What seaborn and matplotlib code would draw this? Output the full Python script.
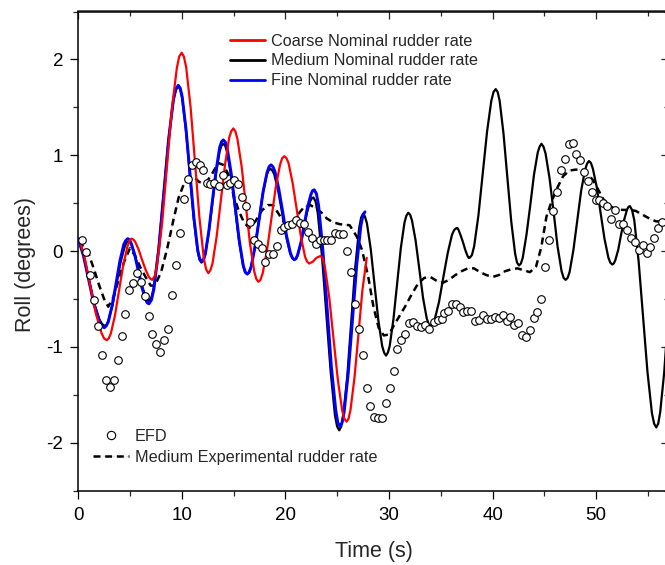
import matplotlib
matplotlib.use("Agg")
import matplotlib.pyplot as plt
import seaborn as sns
import pandas as pd
from matplotlib.lines import Line2D
from matplotlib.legend_handler import HandlerTuple
from matplotlib.ticker import MultipleLocator

# ---------------- data ----------------
coarse_t = [0.13, 0.65, 1.18, 1.70, 2.23, 2.49,
            2.75, 2.95, 3.15, 3.55, 3.96, 4.36, 4.76, 4.96,
            5.16, 5.33, 5.49, 5.82, 6.16, 6.49, 6.82, 6.98,
            7.15, 7.39, 7.62, 8.10, 8.57, 9.04, 9.52, 9.75,
            9.99, 10.20, 10.42, 10.85, 11.28, 11.70, 12.13, 12.35,
            12.56, 12.76, 12.96, 13.36, 13.77, 14.17, 14.57, 14.77,
            14.97, 15.17, 15.37, 15.78, 16.18, 16.58, 16.99, 17.19,
            17.39, 17.60, 17.81, 18.23, 18.65, 19.06, 19.48, 19.69,
            19.90, 20.10, 20.30, 20.70, 21.10, 21.50, 21.90, 22.10,
            22.30, 22.65, 23.00,
            23.40, 23.61, 23.82, 24.23, 24.65, 25.07, 25.48, 25.69,
            25.90, 26.09, 26.28, 26.67, 27.05, 27.43, 27.85]
coarse_v = [0.12, -0.08, -0.37, -0.65, -0.85, -0.91,
            -0.93, -0.91, -0.86, -0.67, -0.40, -0.14, 0.05, 0.11,
            0.13, 0.12, 0.10, 0.02, -0.09, -0.19, -0.27, -0.29,
            -0.30, -0.26, -0.14, 0.29, 0.89, 1.48, 1.91, 2.03,
            2.07, 2.03, 1.92, 1.50, 0.92, 0.35, -0.08, -0.19,
            -0.23, -0.20, -0.13, 0.15, 0.53, 0.90, 1.18, 1.25,
            1.28, 1.25, 1.17, 0.88, 0.48, 0.08, -0.21, -0.29,
            -0.32, -0.30, -0.23, 0.01, 0.34, 0.66, 0.90, 0.97,
            0.99, 0.97, 0.92, 0.71, 0.43, 0.15, -0.06, -0.11,
            -0.13, -0.11, -0.07,
            -0.05, -0.08, -0.17, -0.48, -0.92, -1.35, -1.66, -1.75,
            -1.78, -1.75, -1.66, -1.32, -0.87, -0.41, -0.07]

medium_t = [0.00, 0.52, 1.03, 1.53, 2.04, 2.30,
            2.55, 2.74, 2.93, 3.32, 3.70, 4.08, 4.47, 4.66,
            4.85, 5.02, 5.18, 5.52, 5.85, 6.18, 6.52, 6.68,
            6.85, 7.08, 7.32, 7.78, 8.25, 8.72, 9.18, 9.42,
            9.65, 9.84, 10.03, 10.40, 10.78, 11.15, 11.53, 11.71,
            11.90, 12.08, 12.25, 12.60, 12.95, 13.30, 13.65, 13.83,
            14.00, 14.19, 14.38, 14.77, 15.15, 15.53, 15.92, 16.11,
            16.30, 16.49, 16.68, 17.05, 17.43, 17.80, 18.18, 18.36,
            18.55, 18.74, 18.93, 19.32, 19.70, 20.08, 20.47, 20.66,
            20.85, 21.00, 21.16, 21.47, 21.78, 22.08, 22.39, 22.55,
            22.70, 22.91, 23.12, 23.53, 23.95, 24.37, 24.78, 24.99,
            25.20, 25.39, 25.58, 25.97, 26.35, 26.73, 27.12, 27.31,
            27.50, 27.68, 27.87, 28.24, 28.61, 28.97, 29.34, 29.53,
            29.71, 29.89, 30.07, 30.43, 30.79, 31.14, 31.50, 31.68,
            31.86, 32.04, 32.22, 32.57, 32.93, 33.29, 33.64, 33.82,
            34.00, 34.21, 34.42, 34.83, 35.25, 35.67, 36.08, 36.29,
            36.50, 36.61, 36.72, 36.93, 37.15, 37.37, 37.58, 37.69,
            37.80, 38.01, 38.22, 38.63, 39.05, 39.47, 39.88, 40.09,
            40.30, 40.49, 40.68, 41.05, 41.43, 41.80, 42.18, 42.36,
            42.55, 42.73, 42.91, 43.27, 43.64, 44.00, 44.36, 44.54,
            44.72, 44.91, 45.11, 45.50, 45.89, 46.27, 46.66, 46.86,
            47.05, 47.24, 47.43, 47.80, 48.18, 48.55, 48.93, 49.11,
            49.30, 49.49, 49.68, 50.05, 50.43, 50.80, 51.18, 51.36,
            51.55, 51.69, 51.83, 52.12, 52.40, 52.68, 52.97, 53.11,
            53.25, 53.46, 53.68, 54.10, 54.53, 54.95, 55.38, 55.59,
            55.80, 55.99, 56.18, 56.57, 56.95]
medium_v = [0.13, -0.05, -0.29, -0.54, -0.71, -0.76,
            -0.78, -0.77, -0.72, -0.56, -0.34, -0.12, 0.04, 0.09,
            0.10, 0.09, 0.06, -0.06, -0.21, -0.37, -0.48, -0.51,
            -0.52, -0.48, -0.37, 0.04, 0.60, 1.16, 1.57, 1.68,
            1.72, 1.69, 1.60, 1.26, 0.80, 0.34, 0.00, -0.09,
            -0.12, -0.10, -0.04, 0.19, 0.50, 0.81, 1.04, 1.10,
            1.12, 1.10, 1.03, 0.78, 0.44, 0.10, -0.15, -0.22,
            -0.24, -0.22, -0.17, 0.04, 0.31, 0.59, 0.79, 0.84,
            0.86, 0.84, 0.80, 0.62, 0.39, 0.15, -0.03, -0.07,
            -0.09, -0.08, -0.05, 0.07, 0.24, 0.40, 0.52, 0.55,
            0.56, 0.52, 0.40, -0.05, -0.66, -1.26, -1.71, -1.83,
            -1.87, -1.83, -1.72, -1.31, -0.74, -0.18, 0.24, 0.35,
            0.39, 0.36, 0.29, 0.02, -0.35, -0.72, -0.99, -1.06,
            -1.09, -1.06, -0.99, -0.71, -0.34, 0.03, 0.30, 0.37,
            0.40, 0.38, 0.32, 0.11, -0.19, -0.49, -0.70, -0.76,
            -0.78, -0.76, -0.71, -0.53, -0.27, -0.02, 0.17, 0.22,
            0.24, 0.24, 0.22, 0.16, 0.09, 0.01, -0.05, -0.07,
            -0.07, -0.04, 0.05, 0.37, 0.81, 1.25, 1.57, 1.66,
            1.69, 1.66, 1.57, 1.23, 0.77, 0.31, -0.03, -0.12,
            -0.15, -0.13, -0.07, 0.17, 0.48, 0.80, 1.03, 1.09,
            1.12, 1.09, 1.02, 0.76, 0.41, 0.05, -0.21, -0.28,
            -0.30, -0.28, -0.22, 0.01, 0.32, 0.63, 0.85, 0.91,
            0.94, 0.92, 0.86, 0.67, 0.40, 0.13, -0.07, -0.12,
            -0.14, -0.13, -0.10, 0.01, 0.17, 0.32, 0.43, 0.46,
            0.47, 0.43, 0.32, -0.11, -0.69, -1.26, -1.69, -1.80,
            -1.84, -1.80, -1.68, -1.26, -0.67]

fine_t = [0.00, 0.51, 1.01, 1.51, 2.02, 2.27,
          2.52, 2.71, 2.90, 3.27, 3.65, 4.03, 4.40, 4.59,
          4.78, 4.95, 5.12, 5.46, 5.81, 6.15, 6.49, 6.66,
          6.83, 7.07, 7.30, 7.77, 8.25, 8.72, 9.19, 9.42,
          9.66, 9.85, 10.04, 10.41, 10.79, 11.17, 11.54, 11.73,
          11.92, 12.09, 12.27, 12.61, 12.96, 13.31, 13.65, 13.83,
          14.00, 14.19, 14.39, 14.77, 15.16, 15.55, 15.93, 16.13,
          16.32, 16.51, 16.70, 17.08, 17.47, 17.85, 18.23, 18.42,
          18.61, 18.80, 18.99, 19.36, 19.74, 20.11, 20.49, 20.67,
          20.86, 21.02, 21.18, 21.50, 21.82, 22.14, 22.46, 22.62,
          22.78, 22.99, 23.20, 23.61, 24.03, 24.44, 24.86, 25.06,
          25.27, 25.47, 25.67, 26.07, 26.48, 26.88, 27.28, 27.48, 27.68]
fine_v = [0.13, -0.05, -0.30, -0.55, -0.73, -0.78,
          -0.80, -0.78, -0.74, -0.57, -0.34, -0.10, 0.07, 0.11,
          0.13, 0.12, 0.08, -0.04, -0.21, -0.38, -0.50, -0.54,
          -0.55, -0.51, -0.40, 0.02, 0.59, 1.16, 1.58, 1.69,
          1.73, 1.70, 1.61, 1.27, 0.81, 0.35, 0.01, -0.08,
          -0.11, -0.09, -0.03, 0.21, 0.53, 0.84, 1.08, 1.14,
          1.16, 1.14, 1.07, 0.81, 0.46, 0.11, -0.15, -0.22,
          -0.24, -0.22, -0.16, 0.05, 0.33, 0.62, 0.82, 0.88,
          0.90, 0.88, 0.83, 0.65, 0.41, 0.16, -0.02, -0.07,
          -0.09, -0.08, -0.04, 0.09, 0.28, 0.46, 0.59, 0.63,
          0.64, 0.60, 0.48, 0.02, -0.60, -1.21, -1.66, -1.79,
          -1.83, -1.79, -1.68, -1.27, -0.71, -0.15, 0.26, 0.37, 0.41]

exp_t = [0.0, 0.5, 1.0, 1.5, 2.0, 2.5, 2.9, 3.4, 3.9, 4.4, 5.0, 5.5, 6.0, 6.5,
         7.0, 7.4, 8.0, 8.6, 9.2, 9.7, 10.2, 10.7, 11.2, 11.7, 12.3, 12.9, 13.5,
         14.0, 14.5, 15.0, 15.5, 16.0, 16.5, 17.1, 17.7, 18.3, 18.8, 19.4, 20.0,
         20.6, 21.2, 21.8, 22.4, 22.9, 23.5, 24.0, 24.6, 25.3, 26.2, 26.9, 27.4,
         28.0, 28.5, 29.0, 29.5, 30.0, 30.5, 31.0, 31.6, 32.2, 32.8, 33.4, 34.0,
         34.6, 35.2, 35.8, 36.4, 37.0, 37.6, 38.2, 38.8, 39.4, 40.0, 40.6, 41.2,
         41.8, 42.4, 43.0, 43.6, 44.2, 44.7, 45.2, 45.7, 46.2, 46.8, 47.4, 48.0,
         48.7, 49.2, 49.7, 50.2, 50.7, 51.2, 51.8, 52.5, 53.2, 53.8, 54.3, 54.8,
         55.3, 55.8, 56.3, 56.8]
exp_v = [0.10, 0.05, -0.03, -0.18, -0.35, -0.50, -0.58, -0.48, -0.30, -0.12,
         0.03, -0.05, -0.17, -0.27, -0.36, -0.36, -0.22, 0.03, 0.33, 0.56, 0.70,
         0.77, 0.77, 0.72, 0.71, 0.80, 0.92, 0.90, 0.80, 0.58, 0.42, 0.30, 0.24,
         0.31, 0.42, 0.48, 0.48, 0.38, 0.28, 0.28, 0.38, 0.46, 0.48, 0.45, 0.40,
         0.34, 0.30, 0.28, 0.27, 0.15, 0.01, -0.27, -0.58, -0.80, -0.88, -0.87,
         -0.77, -0.68, -0.57, -0.45, -0.34, -0.28, -0.27, -0.31, -0.33, -0.30,
         -0.25, -0.21, -0.18, -0.18, -0.22, -0.25, -0.27, -0.25, -0.21, -0.19,
         -0.18, -0.20, -0.22, -0.16, 0.04, 0.36, 0.52, 0.65, 0.78, 0.84, 0.85,
         0.85, 0.80, 0.74, 0.64, 0.54, 0.48, 0.44, 0.43, 0.43, 0.42, 0.39, 0.36,
         0.33, 0.31, 0.31, 0.32]

efd_t = [0.40, 0.78, 1.14, 1.55, 1.90, 2.28, 2.65, 3.04, 3.43, 3.80, 4.20, 4.55,
         4.90, 5.30, 5.66, 6.06, 6.45, 6.79, 7.16, 7.52, 7.93, 8.29, 8.67, 9.04,
         9.42, 9.80, 10.18, 10.57, 10.95, 11.34, 11.72, 12.05, 12.40, 12.72,
         13.10, 13.60, 13.95, 14.33, 14.65, 15.04, 15.40, 15.84, 16.17, 16.58,
         16.97, 17.32, 17.71, 18.03, 18.42, 18.80, 19.19, 19.58, 19.90, 20.28,
         20.67, 21.05, 21.44, 21.78, 22.15, 22.55, 22.92, 23.30, 23.68, 24.04,
         24.43, 24.82, 25.20, 25.59, 25.98, 26.30, 26.69, 27.07, 27.46, 27.85,
         28.17, 28.55, 28.94, 29.32, 29.70, 30.10, 30.48, 30.80, 31.19, 31.57,
         31.96, 32.35, 32.73, 33.10, 33.50, 33.90, 34.30, 34.70, 35.09, 35.30,
         35.67, 36.05, 36.44, 36.82, 37.17, 37.56, 37.94, 38.30, 38.69, 39.07,
         39.46, 39.82, 40.20, 40.59, 40.97, 41.36, 41.71, 42.07, 42.45, 42.81,
         43.20, 43.58, 43.97, 44.30, 44.70, 45.08, 45.47, 45.80, 46.19, 46.57,
         46.99, 47.37, 47.73, 48.05, 48.43, 48.85, 49.24, 49.57, 49.95, 50.30,
         50.69, 51.07, 51.46, 51.84, 52.23, 52.60, 53.00, 53.33, 53.72, 54.10,
         54.49, 54.87, 55.20, 55.58, 55.96, 56.35]
efd_v = [0.12, -0.01, -0.25, -0.51, -0.78, -1.08, -1.34, -1.42, -1.34, -1.14,
         -0.89, -0.66, -0.41, -0.33, -0.23, -0.32, -0.47, -0.68, -0.87, -0.97,
         -1.05, -0.93, -0.81, -0.46, -0.15, 0.19, 0.54, 0.75, 0.90, 0.93, 0.90,
         0.85, 0.71, 0.70, 0.71, 0.68, 0.79, 0.69, 0.71, 0.74, 0.70, 0.56, 0.47,
         0.30, 0.12, 0.07, 0.035, -0.11, -0.035, -0.035, 0.05, 0.22, 0.25, 0.27,
         0.28, 0.32, 0.29, 0.28, 0.20, 0.14, 0.07, 0.12, 0.12, 0.12, 0.12, 0.19,
         0.18, 0.18, 0.00, -0.22, -0.55, -0.81, -1.08, -1.43, -1.62, -1.73,
         -1.74, -1.74, -1.59, -1.43, -1.25, -1.02, -0.93, -0.86, -0.75, -0.74,
         -0.78, -0.79, -0.77, -0.81, -0.74, -0.72, -0.71, -0.65, -0.62, -0.55,
         -0.55, -0.58, -0.64, -0.63, -0.63, -0.73, -0.72, -0.67, -0.71, -0.71,
         -0.69, -0.70, -0.67, -0.73, -0.69, -0.77, -0.75, -0.88, -0.90, -0.82,
         -0.70, -0.64, -0.50, -0.17, 0.115, 0.42, 0.62, 0.85, 0.96, 1.12, 1.13,
         1.01, 0.95, 0.83, 0.73, 0.62, 0.53, 0.53, 0.50, 0.47, 0.34, 0.43, 0.28,
         0.28, 0.22, 0.14, 0.10, 0.01, 0.06, -0.02, 0.04, 0.14, 0.24, 0.30]

series_labels = ["Coarse Nominal rudder rate", "Medium Nominal rudder rate",
                 "Fine Nominal rudder rate"]
efd_label = "EFD"
exp_label = "Medium Experimental rudder rate"
x_ticks = [0, 10, 20, 30, 40, 50]
y_ticks = [-2, -1, 0, 1, 2]

# ---------------- styling ----------------
sns.set_style("ticks")
plt.rcParams["font.family"] = ["Liberation Sans", "DejaVu Sans"]
plt.rcParams["lines.scale_dashes"] = False

W, H = 665, 565
fig = plt.figure(figsize=(W / 100, H / 100), dpi=100)
left_px, right_px, top_px, bot_px = 78.2, 668.7, 11.5, 490.7
ax = fig.add_axes([left_px / W, 1 - bot_px / H, (right_px - left_px) / W,
                   (bot_px - top_px) / H])

df_c = pd.DataFrame({"t": coarse_t, "v": coarse_v})
df_m = pd.DataFrame({"t": medium_t, "v": medium_v})
df_f = pd.DataFrame({"t": fine_t, "v": fine_v})
df_e = pd.DataFrame({"t": exp_t, "v": exp_v})
df_d = pd.DataFrame({"t": efd_t, "v": efd_v})

dash = (0, (5.0, 3.4))
faint_kw = dict(color="#c8c8c8", lw=0.9, linestyle=(0, (0.8, 1.6)))
sns.lineplot(data=df_e, x="t", y="v", sort=False, estimator=None, ax=ax,
             zorder=1.9, **faint_kw)
sns.lineplot(data=df_e, x="t", y="v", sort=False, estimator=None, ax=ax,
             color="black", lw=1.8, linestyle=dash, zorder=2)
sns.lineplot(data=df_m, x="t", y="v", sort=False, estimator=None, ax=ax,
             color="black", lw=1.6, zorder=3)
sns.lineplot(data=df_f, x="t", y="v", sort=False, estimator=None, ax=ax,
             color="#0000ff", lw=2.1, zorder=4)
sns.lineplot(data=df_c, x="t", y="v", sort=False, estimator=None, ax=ax,
             color="#ff0000", lw=1.6, zorder=5)
sns.scatterplot(data=df_d, x="t", y="v", ax=ax, marker="o", s=30,
                color="white", edgecolor="black", linewidth=0.8, zorder=6)

ax.set_xlim(0, 57)
ax.set_ylim(-2.5, 2.5)
ax.set_xticks(x_ticks)
ax.set_yticks(y_ticks)
ax.set_xticklabels([str(v) for v in x_ticks])
ax.set_yticklabels([str(v) for v in y_ticks])
ax.xaxis.set_minor_locator(MultipleLocator(5))
ax.yaxis.set_minor_locator(MultipleLocator(0.5))
ax.tick_params(which="major", direction="out", length=5.8, width=0.9,
               labelsize=13.5, colors="black", top=False, right=False)
ax.tick_params(which="minor", direction="out", length=3.3, width=0.9,
               top=False, right=False)
ax.tick_params(axis="x", which="major", pad=6)
ax.tick_params(axis="y", which="major", pad=5)
for s in ax.spines.values():
    s.set_linewidth(1.1)
    s.set_color("black")

# inward ticks on top and right
secx = ax.secondary_xaxis("top")
secx.set_xticks(x_ticks)
secx.xaxis.set_minor_locator(MultipleLocator(5))
secx.tick_params(which="major", direction="in", length=5.8, width=0.9, labeltop=False)
secx.tick_params(which="minor", direction="in", length=3.3, width=0.9)
secx.spines["top"].set_linewidth(1.1)
secy = ax.secondary_yaxis("right")
secy.set_yticks(y_ticks)
secy.yaxis.set_minor_locator(MultipleLocator(0.5))
secy.tick_params(which="major", direction="in", length=5.8, width=0.9, labelright=False)
secy.tick_params(which="minor", direction="in", length=3.3, width=0.9)
secy.spines["right"].set_linewidth(1.1)

ax.set_xlabel("Time (s)", fontsize=15.5)
ax.set_ylabel("Roll (degrees)", fontsize=15.5)
ax.xaxis.label.set_verticalalignment("center")
ax.yaxis.label.set_verticalalignment("center")
ax.xaxis.set_label_coords(0.5, (bot_px - 552) / (bot_px - top_px))
ax.yaxis.set_label_coords((25 - left_px) / (right_px - left_px),
                          (bot_px - 264) / (bot_px - top_px))

# legends
h1 = [Line2D([], [], color="#ff0000", lw=2.0),
      Line2D([], [], color="black", lw=2.0),
      Line2D([], [], color="#0000ff", lw=2.0)]
leg1 = fig.legend(h1, series_labels, loc="upper left",
                  bbox_to_anchor=(230 / W, 1 - 33.5 / H), frameon=False,
                  fontsize=11.7, handlelength=2.15, handletextpad=0.35,
                  labelspacing=0.30, borderpad=0, borderaxespad=0)
h2 = [Line2D([], [], ls="none", marker="o", markersize=6, markerfacecolor="white",
             markeredgecolor="black", markeredgewidth=0.8),
      (Line2D([], [], **faint_kw),
       Line2D([], [], color="black", lw=1.8, linestyle=dash))]
leg2 = fig.legend(h2, [efd_label, exp_label], loc="upper left",
                  bbox_to_anchor=(93.3 / W, 1 - 429 / H), frameon=False,
                  fontsize=11.7, handlelength=2.2, handletextpad=0.35,
                  labelspacing=0.37, borderpad=0, borderaxespad=0,
                  handler_map={tuple: HandlerTuple(ndivide=1, pad=0)})

fig.savefig("out.png", dpi=100)
